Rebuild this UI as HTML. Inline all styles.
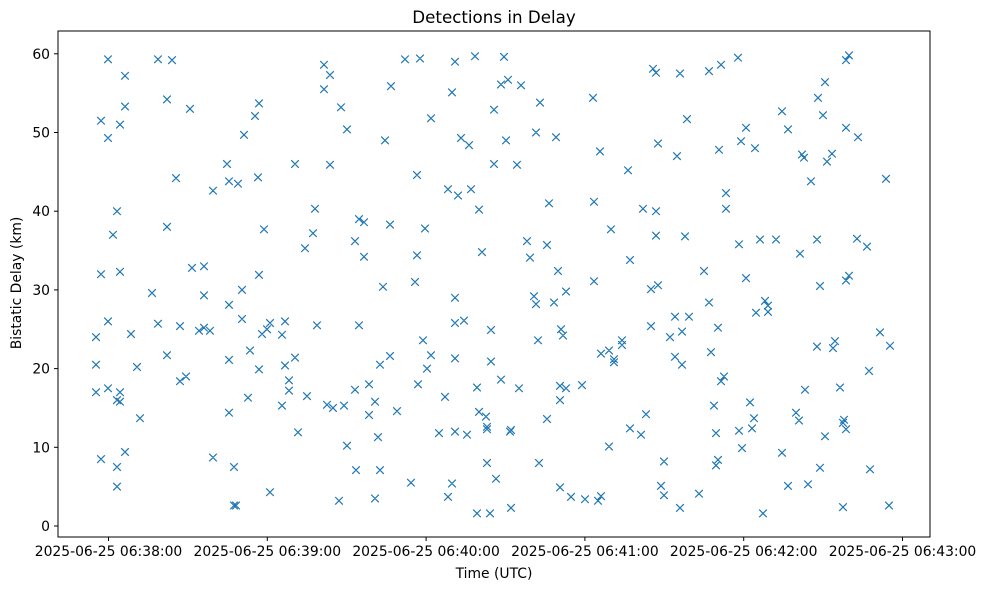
<!DOCTYPE html>
<html><head><meta charset="utf-8"><style>
body{margin:0;background:#fff}
svg text{font-family:"DejaVu Sans","Liberation Sans",sans-serif;fill:#000}
</style></head><body>
<svg id="s" width="987" height="590" xmlns="http://www.w3.org/2000/svg">
<rect x="0" y="0" width="987" height="590" fill="#fff"/>
<g id="pts" stroke="#1f77b4" stroke-width="1.2" fill="none"></g>
<rect x="58" y="31" width="872" height="506" fill="none" stroke="#000" stroke-width="1"/>
<text x="494" y="23" font-size="16.7" text-anchor="middle">Detections in Delay</text>
<text x="494" y="578" font-size="13.9" text-anchor="middle">Time (UTC)</text>
<text transform="translate(21,283) rotate(-90)" font-size="13.9" text-anchor="middle">Bistatic Delay (km)</text>
<g stroke="#000" stroke-width="1">
<line x1="108.5" y1="537" x2="108.5" y2="541"/><line x1="267.3" y1="537" x2="267.3" y2="541"/><line x1="426.1" y1="537" x2="426.1" y2="541"/><line x1="584.9" y1="537" x2="584.9" y2="541"/><line x1="743.7" y1="537" x2="743.7" y2="541"/><line x1="902.5" y1="537" x2="902.5" y2="541"/>
<line x1="54" y1="526" x2="58" y2="526"/><line x1="54" y1="447.3" x2="58" y2="447.3"/><line x1="54" y1="368.6" x2="58" y2="368.6"/><line x1="54" y1="289.9" x2="58" y2="289.9"/><line x1="54" y1="211.2" x2="58" y2="211.2"/><line x1="54" y1="132.5" x2="58" y2="132.5"/><line x1="54" y1="53.8" x2="58" y2="53.8"/>
</g>
<g font-size="13.9" text-anchor="middle">
<text x="108.5" y="556">2025-06-25 06:38:00</text><text x="267.3" y="556">2025-06-25 06:39:00</text><text x="426.1" y="556">2025-06-25 06:40:00</text><text x="584.9" y="556">2025-06-25 06:41:00</text><text x="743.7" y="556">2025-06-25 06:42:00</text><text x="902.5" y="556">2025-06-25 06:43:00</text>
</g>
<g font-size="13.9" text-anchor="end">
<text x="50" y="531">0</text><text x="50" y="452.3">10</text><text x="50" y="373.6">20</text><text x="50" y="294.9">30</text><text x="50" y="216.2">40</text><text x="50" y="137.5">50</text><text x="50" y="58.8">60</text>
</g>
</svg>
<script>
var d=[[96,24,20.5,17],[101,51.5,32,8.5],[108,59.3,49.3,26,17.5],[113,37],[117,40,16,7.5,5],[120,51,32.3,17,15.8],[125,57.2,53.3,9.4],[131,24.4],[137,20.2],[140,13.7],[152,29.6],[158,59.3,25.7],[167,54.2,38,21.7],[172,59.2],[176,44.2],[180,25.4,18.4],[186,19],[190,53],[192,32.8],[199,24.8],[204,33,29.3,25.2],[210,24.8],[213,42.6,8.7],[227,46],[229,43.8,28.1,21.1,14.4],[234,7.5,2.6],[236,2.6],[238,43.5],[242,30,26.3],[244,49.7],[248,16.3],[250,22.3],[255,52.1],[258,44.3],[259,53.7,31.9,19.9],[262,24.4],[264,37.7],[267,25],[270,4.3,25.8],[282,24.3,15.3],[285,26,20.4],[289,18.5,17.2],[295,46,21.4],[298,11.9],[305,35.3],[307,16.5],[313,37.2],[315,40.3],[317,25.5],[324,58.6,55.5],[327,15.4],[330,45.9,57.3],[333,15],[339,3.2],[341,53.2],[344,15.3],[347,50.4,10.2],[355,36.2,17.3],[356,7.1],[359,39,25.5],[364,34.2,38.6],[369,18,14.1],[375,3.5,15.8],[378,11.3],[380,20.5,7.1],[383,30.4],[385,49],[390,21.6,38.3],[391,55.9],[397,14.6],[405,59.3],[411,5.5],[415,31],[417,34.4,44.6],[418,18],[420,59.4],[423,23.6],[425,37.8],[427,20],[431,51.8,21.7],[439,11.8],[445,16.4],[448,3.7,42.8],[452,55.1,5.4],[455,59,29,25.8,21.3,12],[458,42],[461,49.3],[464,26.1],[467,11.6],[469,48.4],[471,42.8],[475,59.7],[477,17.6,1.6],[479,40.2,14.5],[482,34.8],[486,13.9],[487,12.6,8,12.3],[490,1.6],[491,24.9,20.9],[494,52.9,46],[496,6],[501,56.1,18.6],[504,59.6],[506,49],[508,56.7],[510,12],[511,2.3,12.2],[517,45.9],[519,17.5],[521,56],[527,36.2],[530,34.1],[534,29.2],[536,28.2,50],[538,23.6],[539,8],[540,53.8],[547,13.6,35.7],[549,41],[554,28.4],[556,49.4],[558,32.4],[560,17.8,4.9,16],[561,25],[563,24.2],[566,29.8,17.5],[571,3.7],[582,17.9],[585,3.4],[593,54.4],[594,41.2,31.1],[598,3.2],[600,47.6],[601,21.9,3.8],[609,22.3,10.1],[611,37.7],[614,21.2,20.8],[622,23,23.6],[628,45.2],[630,33.8,12.4],[641,11.6],[643,40.3],[646,14.2],[651,25.4,30.1],[653,58.1],[656,57.6,40,36.9],[658,48.6,30.6],[661,5.1],[664,8.2,3.9],[670,24],[675,26.6,21.5],[677,47],[680,57.5,2.3],[682,20.5,24.7],[685,36.8],[687,51.7],[689,26.6],[699,4.1],[704,32.4],[709,57.8,28.4],[711,22.1],[714,15.3],[716,7.7,11.8],[718,25.2,8.4],[719,47.8],[721,58.6,18.4],[724,19],[726,42.3,40.3],[738,59.5],[739,35.8,12.1],[741,48.9],[742,9.9],[746,50.6,31.5],[750,15.7],[752,12.4],[754,13.7],[755,48],[756,27.1],[760,36.4],[763,1.6],[765,28.6],[768,27.2,28],[776,36.4],[782,52.7,9.3],[788,50.4,5.1],[796,14.4],[799,13.4],[800,34.6],[802,47.2],[804,46.8],[805,17.3],[808,5.3],[811,43.8],[817,22.8,36.4],[818,54.4],[820,30.5,7.4],[823,52.2],[825,11.4,56.4],[827,46.3],[832,47.3],[833,22.6],[835,23.5],[840,17.6],[843,2.4,13.1],[844,13.5],[846,59.2,50.6,31.2,12.3],[849,59.8,31.8],[857,36.5],[858,49.4],[867,35.5],[869,19.7],[870,7.2],[880,24.6],[886,44.1],[889,2.6],[890,22.9]];
var p='',r=3.8;
d.forEach(function(a){var x=a[0];for(var i=1;i<a.length;i++){var y=526-a[i]*7.87;p+='M'+(x-r)+' '+(y-r).toFixed(1)+'L'+(x+r)+' '+(y+r).toFixed(1)+'M'+(x-r)+' '+(y+r).toFixed(1)+'L'+(x+r)+' '+(y-r).toFixed(1);}});
var e=document.createElementNS('http://www.w3.org/2000/svg','path');e.setAttribute('d',p);document.getElementById('pts').appendChild(e);
</script>
</body></html>
